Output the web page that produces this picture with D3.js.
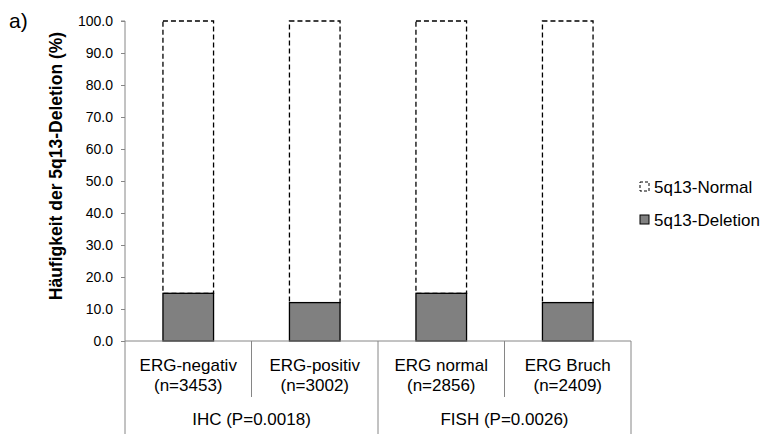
<!DOCTYPE html>
<html>
<head>
<meta charset="utf-8">
<script src="https://cdn.jsdelivr.net/npm/d3@7"></script>
<style>
  body { margin: 0; background: #fff; }
  text { font-family: "Liberation Sans", Arial, sans-serif; }
</style>
</head>
<body>
<svg id="chart" width="768" height="434"></svg>
<script>
// Categories (two-line labels) and their grouping
const categories = ["ERG-negativ", "ERG-positiv", "ERG normal", "ERG Bruch"];
const categoryCounts = ["(n=3453)", "(n=3002)", "(n=2856)", "(n=2409)"];
const groups = ["IHC (P=0.0018)", "FISH (P=0.0026)"];
const groupSpans = [2, 2];

// Stacked percentages
const deletionPct = [14.9, 12.0, 14.9, 12.0];
const normalPct = deletionPct.map(d => +(100 - d).toFixed(1));

const yTicks = [0, 10, 20, 30, 40, 50, 60, 70, 80, 90, 100];
const seriesNames = ["5q13-Normal", "5q13-Deletion"];

const svg = d3.select("#chart");
const margin = { left: 125, right: 137, top: 21, bottom: 93 };
const W = 768, H = 434;
const plotW = W - margin.left - margin.right;
const plotBottom = H - margin.bottom;

const x = d3.scaleBand().domain(categories).range([margin.left, margin.left + plotW]).paddingInner(0.6).paddingOuter(0.3);
const xOuter = d3.scaleBand().domain(categories).range([margin.left, margin.left + plotW]).padding(0);
const y = d3.scaleLinear().domain([0, 100]).range([plotBottom, margin.top]);

const axisColor = "#868686";

// Stacked data
const stackData = categories.map((c, i) => ({ cat: c, del: deletionPct[i], norm: normalPct[i] }));
const stacked = d3.stack().keys(["del", "norm"])(stackData);

// Normal segments (dashed outline)
svg.append("g").selectAll("rect").data(stacked[1]).join("rect")
  .attr("x", d => x(d.data.cat))
  .attr("y", d => y(d[1]))
  .attr("width", x.bandwidth())
  .attr("height", d => y(d[0]) - y(d[1]))
  .attr("fill", "#fff")
  .attr("stroke", "#000")
  .attr("stroke-width", 1.3)
  .attr("stroke-dasharray", "5,3");

// Deletion segments
svg.append("g").selectAll("rect").data(stacked[0]).join("rect")
  .attr("x", d => x(d.data.cat))
  .attr("y", d => y(d[1]))
  .attr("width", x.bandwidth())
  .attr("height", d => y(d[0]) - y(d[1]))
  .attr("fill", "#808080")
  .attr("stroke", "#000")
  .attr("stroke-width", 1.3);

// Y axis
const yAxis = d3.axisLeft(y).tickValues(yTicks).tickFormat(d3.format(".1f")).tickSize(4).tickPadding(4);
const gy = svg.append("g").attr("transform", `translate(${margin.left},0)`).call(yAxis);
gy.select(".domain").attr("stroke", axisColor).attr("d", `M-4,${y(100)}H0V${H}`);
gy.selectAll(".tick line").attr("stroke", axisColor);
gy.selectAll(".tick text").attr("fill", "#000").style("font-size", "14px")
  .style("font-family", '"Liberation Sans", Arial, sans-serif').attr("x", -12);

// X baseline and category dividers
const grid = svg.append("g").attr("stroke", axisColor).attr("stroke-width", 1);
grid.append("line").attr("x1", margin.left).attr("x2", margin.left + plotW).attr("y1", plotBottom).attr("y2", plotBottom);
let idx = 0;
const groupBounds = [];
groupSpans.forEach(span => {
  groupBounds.push([idx, idx + span]);
  idx += span;
});
categories.forEach((c, i) => {
  if (i === 0) return;
  const xx = xOuter(c);
  const isGroupEdge = groupBounds.some(b => b[0] === i);
  grid.append("line").attr("x1", xx).attr("x2", xx).attr("y1", plotBottom).attr("y2", isGroupEdge ? H : plotBottom + 56);
});
grid.append("line").attr("x1", margin.left + plotW).attr("x2", margin.left + plotW).attr("y1", plotBottom).attr("y2", H);

// Category labels
const catLabels = svg.append("g").attr("font-size", 17).attr("text-anchor", "middle").attr("fill", "#000");
categories.forEach((c, i) => {
  const cx = xOuter(c) + xOuter.bandwidth() / 2;
  catLabels.append("text").attr("x", cx).attr("y", plotBottom + 30).text(c);
  catLabels.append("text").attr("x", cx).attr("y", plotBottom + 50).text(categoryCounts[i]);
});

// Group labels
groups.forEach((g, gi) => {
  const [a, b] = groupBounds[gi];
  const x0 = xOuter(categories[a]);
  const x1 = xOuter(categories[b - 1]) + xOuter.bandwidth();
  svg.append("text").attr("x", (x0 + x1) / 2).attr("y", plotBottom + 84)
    .attr("text-anchor", "middle").attr("font-size", 17).text(g);
});

// Y title
svg.append("text")
  .attr("transform", `translate(62,166) rotate(-90)`)
  .attr("text-anchor", "middle").attr("font-size", 17.5).attr("font-weight", "bold")
  .text("Häufigkeit der 5q13-Deletion (%)");

// Panel label
svg.append("text").attr("x", 9).attr("y", 28).attr("font-size", 21).text("a)");

// Legend
const legend = svg.append("g").attr("font-size", 17);
const legendItems = [
  { name: seriesNames[0], y: 187, fill: "#fff", dash: "3,2" },
  { name: seriesNames[1], y: 220, fill: "#808080", dash: null }
];
legendItems.forEach(it => {
  legend.append("rect").attr("x", 640).attr("y", it.y - 5).attr("width", 9).attr("height", 9)
    .attr("fill", it.fill).attr("stroke", "#000").attr("stroke-width", 1)
    .attr("stroke-dasharray", it.dash);
  legend.append("text").attr("x", 654).attr("y", it.y + 6).text(it.name);
});
</script>
</body>
</html>
